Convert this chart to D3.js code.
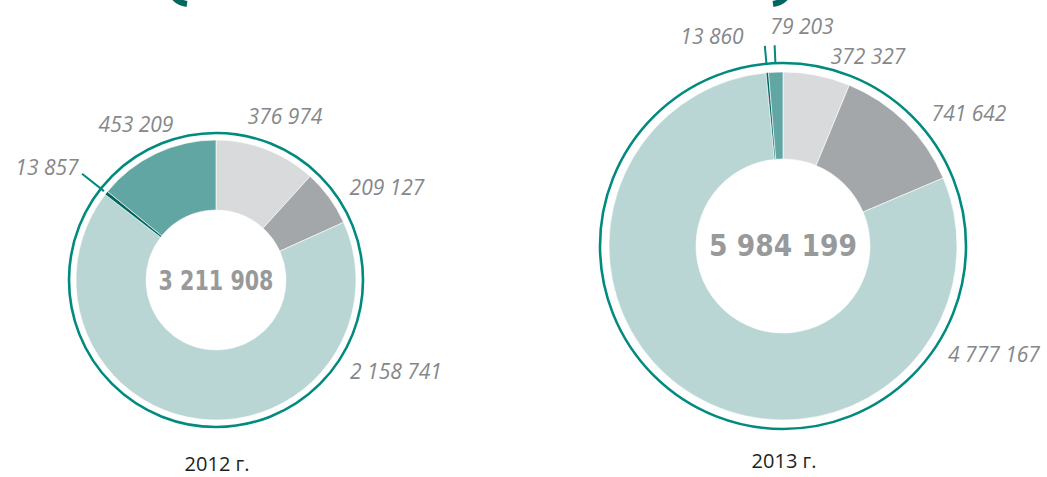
<!DOCTYPE html>
<html>
<head>
<meta charset="utf-8">
<script src="https://cdn.jsdelivr.net/npm/d3@7"></script>
<style>
  body { margin: 0; background: #fff; }
  svg { display: block; }
</style>
</head>
<body>
<script>
const width = 1047;
const height = 477;

// data, clockwise from 12 o'clock
const categories = ["A", "B", "C", "D", "E"];
const values2012 = [376974, 209127, 2158741, 13857, 453209];
const values2013 = [372327, 741642, 4777167, 13860, 79203];
const totals = ["3 211 908", "5 984 199"];
const years = ["2012 г.", "2013 г."];

const colors = ["#d9dadb", "#a4a7a9", "#b9d6d4", "#00665e", "#62a6a4"];
const ringColor = "#008a80";

const svg = d3.select("body")
    .append("svg")
    .attr("width", width)
    .attr("height", height);

const fmt = v => d3.format(",")(v).replace(/,/g, " ");

// label offsets from centre, per slice (layout only)
const charts = [
    {
        values: values2012, total: totals[0], year: years[0],
        cx: 216, cy: 280, r0: 70, r1: 140, ring: 147, yearY: 471,
        labels: [[69, -156], [171, -85], [180, 99], [-169, -105], [-80, -148]],
        leaders: [3], leaderIn: 143, leaderOut: 171,
        totalW: 115
    },
    {
        values: values2013, total: totals[1], year: years[1],
        cx: 783, cy: 246, r0: 87, r1: 174, ring: 183, yearY: 468,
        labels: [[85, -182], [186, -125], [211, 116], [-71, -202], [19, -212]],
        leaders: [3, 4], leaderIn: 183, leaderOut: 201,
        totalW: 148
    }
];

const pie = d3.pie().sort(null).value(d => d);

charts.forEach(function (c) {
    const g = svg.append("g").attr("transform", `translate(${c.cx},${c.cy})`);
    const arcs = pie(c.values);
    const arc = d3.arc().innerRadius(c.r0).outerRadius(c.r1);

    g.selectAll("path.slice")
        .data(arcs)
        .enter()
        .append("path")
        .attr("class", "slice")
        .attr("d", arc)
        .attr("fill", (d, i) => colors[i])
        .attr("stroke", "#fff")
        .attr("stroke-width", 0.6);

    // outer ring
    g.append("circle")
        .attr("r", c.ring)
        .attr("fill", "none")
        .attr("stroke", ringColor)
        .attr("stroke-width", 2.6);

    // leader lines for small slices
    c.leaders.forEach(function (i) {
        const a = (arcs[i].startAngle + arcs[i].endAngle) / 2;
        g.append("line")
            .attr("x1", Math.sin(a) * c.leaderIn)
            .attr("y1", -Math.cos(a) * c.leaderIn)
            .attr("x2", Math.sin(a) * c.leaderOut)
            .attr("y2", -Math.cos(a) * c.leaderOut)
            .attr("stroke", ringColor)
            .attr("stroke-width", 2);
    });

    // value labels
    g.selectAll("text.val")
        .data(arcs)
        .enter()
        .append("text")
        .attr("class", "val")
        .attr("x", (d, i) => c.labels[i][0])
        .attr("y", (d, i) => c.labels[i][1])
        .attr("text-anchor", "middle")
        .attr("font-family", "Open Sans")
        .attr("font-style", "italic")
        .attr("font-size", 21)
        .attr("fill", "#85878a")
        .text(d => fmt(d.data));

    // total in centre
    g.append("text")
        .attr("x", 0)
        .attr("y", 10)
        .attr("text-anchor", "middle")
        .attr("font-family", "DejaVu Sans")
        .attr("font-weight", "bold")
        .attr("font-size", c.cx < 500 ? 27 : 31)
        .attr("textLength", c.totalW)
        .attr("lengthAdjust", "spacingAndGlyphs")
        .attr("fill", "#98999b")
        .text(c.total);

    // year caption
    svg.append("text")
        .attr("x", c.cx + 1)
        .attr("y", c.yearY)
        .attr("text-anchor", "middle")
        .attr("font-family", "Open Sans")
        .attr("font-size", 20)
        .attr("fill", "#231f20")
        .text(c.year);
});

// decorative arc ends cut by the top edge
svg.append("path")
    .attr("d", "M170,-10 Q174,2 187,4")
    .attr("fill", "none")
    .attr("stroke", "#00675f")
    .attr("stroke-width", 6);
svg.append("path")
    .attr("d", "M790,-10 Q786,2 773,4")
    .attr("fill", "none")
    .attr("stroke", "#00675f")
    .attr("stroke-width", 6);
</script>
</body>
</html>
